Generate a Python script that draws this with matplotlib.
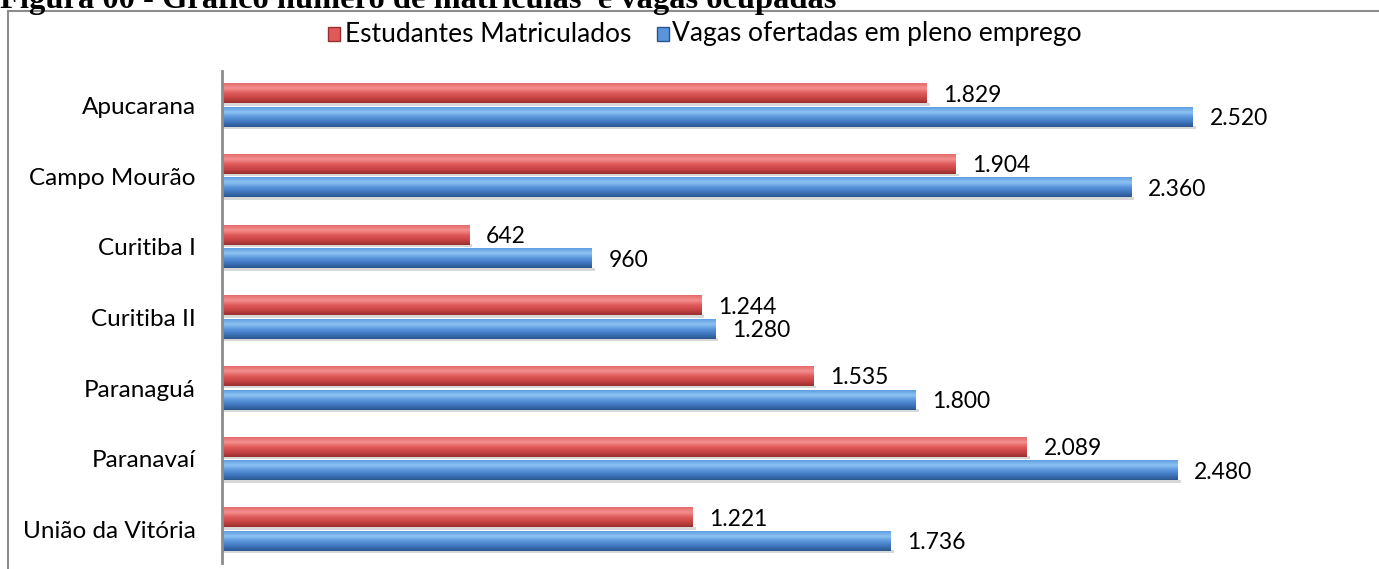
import matplotlib
matplotlib.use("Agg")
import matplotlib.pyplot as plt
import numpy as np
from matplotlib.patches import Rectangle
from matplotlib.colors import to_rgb

# data
campi = ['Apucarana', 'Campo Mourão', 'Curitiba I', 'Curitiba II',
         'Paranaguá', 'Paranavaí', 'União da Vitória']
matriculados = [1829, 1904, 642, 1244, 1535, 2089, 1221]
vagas = [2520, 2360, 960, 1280, 1800, 2480, 1736]
serie_nomes = ['Estudantes Matriculados', 'Vagas ofertadas em pleno emprego']
titulo = 'Figura 00 - Gráfico número de matrículas  e vagas ocupadas'

# gradient stops (top -> bottom) for the "3D" bars
red_stops = ['#e46a6a', '#f49090', '#e05a5a', '#c84444', '#983030']
blue_stops = ['#5f9de0', '#8cc3f3', '#5a95dc', '#3f76bd', '#2a568f']

plt.rcParams['font.family'] = ['Lato', 'DejaVu Sans']


def fmt(v):
    return f'{v:,}'.replace(',', '.')


def gradient(stops, n=64):
    cols = np.array([to_rgb(c) for c in stops])
    pos = np.linspace(0, 1, len(stops))
    t = np.linspace(0, 1, n)
    g = np.stack([np.interp(t, pos, cols[:, k]) for k in range(3)], axis=1)
    return g[:, None, :]


W, H = 1379, 569
fig = plt.figure(figsize=(W / 100, H / 100), dpi=100)

# axes placement in pixels
x0, x1 = 222, 1379
y_top, y_bot = 71, 563
ax = fig.add_axes([x0 / W, 1 - y_bot / H, (x1 - x0) / W, (y_bot - y_top) / H])

n = len(campi)
pos = np.arange(n)[::-1]
h = 0.27
off = 0.167

ax.set_xlim(0, 3003)
ax.set_ylim(-0.474, n - 1 + 0.488)

for y, m, v in zip(pos, matriculados, vagas):
    for val, yc, stops in [(m, y + off, red_stops), (v, y - off, blue_stops)]:
        # soft shadow under the bar
        ax.add_patch(Rectangle((0, yc - h / 2 - 0.035), val + 8, 0.04,
                               color='#d8d8d8', lw=0, zorder=1))
        ax.imshow(gradient(stops), extent=(0, val, yc - h / 2, yc + h / 2),
                  origin='upper', aspect='auto', zorder=2, interpolation='bilinear')
        ax.annotate(fmt(val), (val, yc), xytext=(12, -1), textcoords='offset points',
                    va='center', ha='left', fontsize=16.5, color='black')

ax.set_yticks(pos)
ax.set_yticklabels(campi, fontsize=17.5)
ax.tick_params(axis='y', length=0, pad=19)
ax.set_xticks([])
for s in ['top', 'right', 'bottom']:
    ax.spines[s].set_visible(False)
ax.spines['left'].set_color('#8c8c8c')
ax.spines['left'].set_linewidth(2)

# legend, drawn by hand in figure pixels
leg_y = 34
for (mx, tx), nome, stops in zip([(328, 345), (657, 672)], serie_nomes,
                                 [red_stops, blue_stops]):
    fig.add_artist(Rectangle((mx / W, 1 - (leg_y + 7) / H), 12 / W, 14 / H,
                             transform=fig.transFigure, facecolor=stops[2],
                             edgecolor=stops[4], lw=1))
    fig.text(tx / W, 1 - leg_y / H, nome, fontsize=19, va='center', ha='left')

# frame of the chart area
fig.add_artist(plt.Line2D([8 / W, 1], [1 - 11 / H, 1 - 11 / H], color='#8c8c8c', lw=1.5))
fig.add_artist(plt.Line2D([8 / W, 8 / W], [0, 1 - 11 / H], color='#8c8c8c', lw=1.5))

# clipped caption at the very top
fig.text(0, 1 - 8 / H, titulo, family='Liberation Serif', fontweight='bold',
         fontsize=23.4, va='baseline', ha='left')

fig.savefig('out.png', dpi=100)
